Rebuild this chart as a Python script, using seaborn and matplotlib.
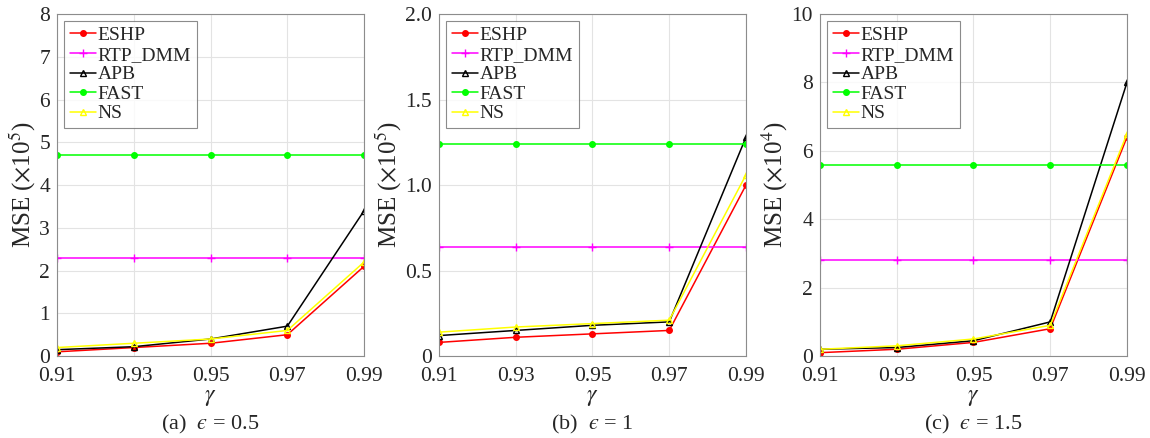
import numpy as np
import pandas as pd
import matplotlib
matplotlib.use("Agg")
import matplotlib.pyplot as plt
import seaborn as sns

gamma = [0.91, 0.93, 0.95, 0.97, 0.99]
gamma_labels = ["0.91", "0.93", "0.95", "0.97", "0.99"]
methods = ["ESHP", "RTP_DMM", "APB", "FAST", "NS"]

# panel (a) epsilon = 0.5, units 1e5
a_eshp = [0.10, 0.20, 0.30, 0.50, 2.10]
a_rtp = [2.30, 2.30, 2.30, 2.30, 2.30]
a_apb = [0.15, 0.22, 0.40, 0.70, 3.40]
a_fast = [4.70, 4.70, 4.70, 4.70, 4.70]
a_ns = [0.20, 0.30, 0.40, 0.60, 2.20]

# panel (b) epsilon = 1, units 1e5
b_eshp = [0.08, 0.11, 0.13, 0.15, 1.00]
b_rtp = [0.64, 0.64, 0.64, 0.64, 0.64]
b_apb = [0.12, 0.15, 0.18, 0.20, 1.28]
b_fast = [1.24, 1.24, 1.24, 1.24, 1.24]
b_ns = [0.14, 0.17, 0.19, 0.21, 1.06]

# panel (c) epsilon = 1.5, units 1e4
c_eshp = [0.10, 0.20, 0.40, 0.80, 6.40]
c_rtp = [2.80, 2.80, 2.80, 2.80, 2.80]
c_apb = [0.20, 0.25, 0.45, 1.00, 8.00]
c_fast = [5.60, 5.60, 5.60, 5.60, 5.60]
c_ns = [0.20, 0.30, 0.50, 0.90, 6.50]

EPS = "$\u03f5$"
panels = [
    dict(series=[a_eshp, a_rtp, a_apb, a_fast, a_ns], ylim=(0, 8), yticks=[0, 1, 2, 3, 4, 5, 6, 7, 8],
         yticklabels=["0", "1", "2", "3", "4", "5", "6", "7", "8"],
         ylabel=r"MSE ($\times$10$^5$)", caption="(a)  " + EPS + " = 0.5"),
    dict(series=[b_eshp, b_rtp, b_apb, b_fast, b_ns], ylim=(0, 2), yticks=[0, 0.5, 1.0, 1.5, 2.0],
         yticklabels=["0", "0.5", "1.0", "1.5", "2.0"],
         ylabel=r"MSE ($\times$10$^5$)", caption="(b)  " + EPS + " = 1"),
    dict(series=[c_eshp, c_rtp, c_apb, c_fast, c_ns], ylim=(0, 10), yticks=[0, 2, 4, 6, 8, 10],
         yticklabels=["0", "2", "4", "6", "8", "10"],
         ylabel=r"MSE ($\times$10$^4$)", caption="(c)  " + EPS + " = 1.5"),
]

styles = {
    "ESHP": dict(color="#ff0000", marker="o", markersize=4, markerfacecolor="#ff0000"),
    "RTP_DMM": dict(color="#ff00ff", marker="+", markersize=6),
    "APB": dict(color="#000000", marker="^", markersize=5, markerfacecolor="none"),
    "FAST": dict(color="#00ff00", marker="o", markersize=4, markerfacecolor="#00ff00"),
    "NS": dict(color="#ffff00", marker="^", markersize=5, markerfacecolor="none"),
}

sns.set_theme(style="white")
plt.rcParams["font.family"] = ["Liberation Serif", "DejaVu Serif"]
plt.rcParams["mathtext.fontset"] = "stix"

fig = plt.figure(figsize=(11.5, 4.38), dpi=100)
lefts = [0.0496, 0.3817, 0.713]
for i, p in enumerate(panels):
    ax = fig.add_axes([lefts[i], 0.187, 0.267, 0.781])
    for m, vals in zip(methods, p["series"]):
        df = pd.DataFrame({"gamma": gamma, "MSE": vals})
        st = styles[m]
        sns.lineplot(data=df, x="gamma", y="MSE", ax=ax, label=m, linewidth=1.1,
                     markeredgewidth=1.0, markeredgecolor=st["color"], **st)
    ax.set_xlim(0.91, 0.99)
    ax.set_ylim(*p["ylim"])
    ax.set_xticks(gamma)
    ax.set_xticklabels(gamma_labels)
    ax.set_yticks(p["yticks"])
    ax.set_yticklabels(p["yticklabels"])
    ax.tick_params(axis="both", direction="in", labelsize=15.5, length=4, color="#808080")
    ax.tick_params(axis="x", pad=8)
    ax.tick_params(axis="y", pad=5)
    ax.grid(True, color="#e3e3e3", linewidth=0.8)
    for s in ax.spines.values():
        s.set_color("#8c8c8c")
        s.set_linewidth(0.8)
    ax.set_xlabel("")
    ax.set_ylabel(p["ylabel"], fontsize=18, labelpad=1)
    x_center = lefts[i] + 0.267 / 2
    fig.text(x_center, 1 - 397 / 438, r"$\gamma$", ha="center", va="center", fontsize=17)
    fig.text(x_center, 1 - 424 / 438, p["caption"], ha="center", va="center", fontsize=16)
    leg = ax.legend(loc="upper left", fontsize=14, frameon=True, fancybox=False,
                    edgecolor="#6e6e6e", handlelength=1.35, handletextpad=0.1,
                    labelspacing=0.1, borderpad=0.3, borderaxespad=0.35)
    leg.get_frame().set_linewidth(0.8)

fig.savefig("out.png", dpi=100)
